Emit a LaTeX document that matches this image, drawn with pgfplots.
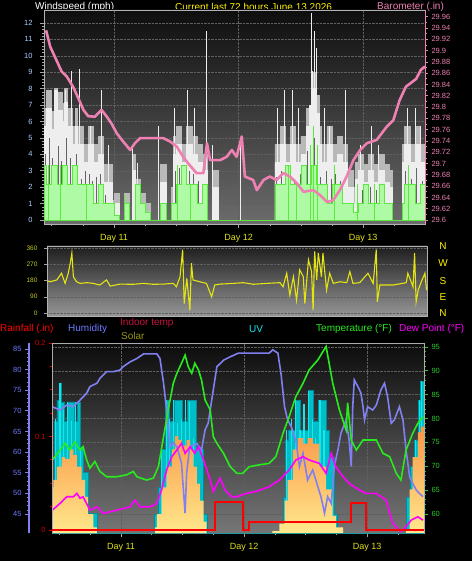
\documentclass[border=0pt]{standalone}
\usepackage{pgfplots}
\pgfplotsset{compat=1.18}
\usepackage{fontspec}
\setmainfont{Liberation Sans}
\newcommand\fs[1]{\fontsize{#1}{#1}\selectfont}
\definecolor{pinkb}{RGB}{238,128,178}
\definecolor{windlbl}{RGB}{175,205,255}
\definecolor{dayy}{RGB}{225,225,30}
\definecolor{diry}{RGB}{228,228,20}
\definecolor{dirlbl}{RGB}{200,200,30}
\definecolor{gwhite}{RGB}{238,238,238}
\definecolor{ggrey}{RGB}{185,185,185}
\definecolor{gdark}{RGB}{100,100,100}
\definecolor{ggreen}{RGB}{175,250,165}
\definecolor{bgreen}{RGB}{90,235,60}
\definecolor{humb}{RGB}{128,128,240}
\definecolor{humlbl}{RGB}{110,120,255}
\definecolor{tgreen}{RGB}{40,235,30}
\definecolor{tlbl}{RGB}{40,200,40}
\definecolor{dewm}{RGB}{255,0,255}
\definecolor{uvc}{RGB}{20,230,235}
\definecolor{uvf}{RGB}{0,190,200}
\definecolor{uvd}{RGB}{0,140,155}
\definecolor{solo}{RGB}{250,150,70}
\definecolor{soly}{RGB}{255,232,140}
\definecolor{rainr}{RGB}{255,0,0}
\definecolor{rainlbl}{RGB}{210,0,0}
\definecolor{indoor}{RGB}{195,20,60}
\definecolor{solarlbl}{RGB}{150,150,20}
\definecolor{bgat}{RGB}{14,14,14}
\definecolor{bgab}{RGB}{108,108,108}
\definecolor{bgbt}{RGB}{30,30,30}
\definecolor{bgbb}{RGB}{150,150,150}
\definecolor{bgct}{RGB}{12,12,12}
\definecolor{bgcb}{RGB}{118,118,118}
\definecolor{gridc}{RGB}{95,95,95}
\pgfplotsset{
  panel/.style={scale only axis, anchor=south west, tick align=outside, scaled ticks=false},
  dgrid/.style={major grid style={densely dotted, gridc, line width=0.4pt}},
}
\begin{document}
\begin{tikzpicture}
\fill[black] (0pt,0pt) rectangle (472pt,-561pt);
% ---------------- titles
\node[anchor=west, inner sep=0, text=white, font=\fs{10}] at (35pt,-6.5pt) {Windspeed (mph)};
\node[anchor=west, inner sep=0, text=yellow, font=\fs{10}] at (175pt,-6.5pt) {Current last 72 hours June 13 2026};
\node[anchor=west, inner sep=0, text=pinkb, font=\fs{10}] at (377pt,-6.5pt) {Barometer (.in)};
% ---------------- wind speed panel
\begin{axis}[panel, dgrid, tick pos=left,
  at={(44pt,-224pt)}, width=381pt, height=214pt,
  xmin=10.5, xmax=83.9, ymin=-0.24, ymax=12.79,
  axis background/.style={top color=bgat, bottom color=bgab},
  axis line style={draw=gray!60, line width=0.8pt},
  xtick={24,48,72}, xticklabels={Day 11,Day 12,Day 13},
  minor xtick={12,18,30,36,42,54,60,66,78},
  ytick={0,1,2,3,4,5,6,7,8,9,10,11,12}, yticklabels={0,1,2,3,4,5,6,7,8,9,10,11,12},
  minor y tick num=4,
  major tick length=4pt, minor tick length=2pt,
  tick style={draw=gray!70, line width=0.6pt},
  xticklabel style={font=\fs{9}, text=dayy, yshift=-3pt},
  yticklabel style={font=\fs{7.5}, text=windlbl, xshift=-4pt},
  xmajorgrids, ymajorgrids,
]
\addplot[const plot, fill=ggrey, draw=ggrey, line width=0.6pt] coordinates {
(10.5,6.8)(11,7.9)(12,6.6)(12.5,8.0)(13,7.8)(14,7.1)(14.5,8.0)(15,6.8)(16,5.7)(16.5,6.8)(17,5.7)(18,4.6)(19,5.7)(20,4.6)(21,5.1)(22,3.4)(23,3.4)(23.6,1.2)(24,1.6)(25,0)(26,1.6)(27,0)(27.6,4.0)(28,2.5)(29,1.6)(30,1.0)(31,0)(33,3.4)(34,0)(35,2.0)(35.5,5.1)(36,5.7)(37,4.6)(38,5.7)(39,5.1)(40,4.6)(41,4.0)(42,0)(43,3.0)(44,0)(55,4.6)(56,5.7)(57,4.6)(58,5.7)(59,4.6)(60,5.1)(61,6.8)(62,9.0)(63,7.6)(63.5,5.7)(64,4.6)(65,5.7)(66,4.6)(67,5.1)(68,4.6)(69,3.0)(70,2.0)(70.5,3.5)(71,4.0)(72,3.4)(73,4.0)(74,3.4)(75,4.0)(76,3.4)(77,3.0)(77.6,0)(79.5,4.6)(80,5.7)(81,4.6)(82,5.7)(83,4.6)(83.9,4.6)
} \closedcycle;
\addplot[const plot, fill=gwhite, draw=gwhite, line width=0.6pt] coordinates {
(10.5,5.7)(11,6.8)(12,5.5)(12.5,7.9)(13,6.7)(14,6.0)(14.5,7.2)(15,5.7)(16,4.6)(16.5,5.7)(17,4.6)(18,3.5)(19,4.6)(20,3.5)(21,4.0)(22,2.3)(23,2.3)(23.6,0.6)(24,1.0)(25,0)(26,1.0)(27,0)(27.6,3.0)(28,1.5)(29,1.0)(30,0.5)(31,0)(33,2.3)(34,0)(35,1.0)(35.5,4.0)(36,4.6)(37,3.5)(38,4.6)(39,4.0)(40,3.5)(41,3.0)(42,0)(43,2.0)(44,0)(55,3.5)(56,4.6)(57,3.5)(58,4.6)(59,3.5)(60,4.0)(61,5.7)(61.6,7.0)(62,8.0)(63,6.5)(63.5,4.6)(64,3.5)(65,4.6)(66,3.5)(67,4.0)(68,3.5)(69,2.0)(70,1.0)(70.5,2.5)(71,3.0)(72,2.3)(73,3.0)(74,2.3)(75,3.0)(76,2.3)(77,2.0)(77.6,0)(79.5,3.5)(80,4.6)(81,3.5)(82,4.6)(83,3.5)(83.9,3.5)
} \closedcycle;
\addplot[ycomb, gwhite, line width=1pt, mark=none] coordinates {
(11.2,6.8)(12.8,7.9)(14.6,7.9)(15.8,9.1)(17.3,9.2)(19.5,5.7)(21.6,7.9)(23.0,4.6)(27.6,4.6)(28.6,3.5)(32.5,5.7)(35.7,6.8)(38.1,7.9)(39.5,6.8)(41.9,11.5)(43.0,4.6)(48.3,4.9)(55.5,6.8)(56.9,7.9)(58.3,7.9)(59.5,6.8)(62.0,12.6)(62.3,9.1)(62.7,11.5)(63.0,10.5)(64.5,6.8)(65.5,5.7)(68.5,7.9)(71.5,4.6)(73.5,5.7)(75.0,4.6)(80.5,6.8)(82.0,6.8)(83.0,5.7)
};
\addplot[ycomb, gdark, line width=0.7pt, mark=none] coordinates {
(10.8,4.0)(11.6,5.0)(12.2,3.8)(13.3,4.5)(13.9,3.6)(14.8,5.0)(15.5,3.8)(16.2,3.0)(16.8,4.0)(17.6,2.5)(18.4,3.0)(19.2,2.8)(19.8,2.4)(20.6,2.6)(21.4,2.8)(22.4,1.5)(35.8,3.0)(36.6,3.2)(37.3,2.6)(38.5,3.0)(39.2,2.8)(40.3,2.4)(55.3,2.6)(56.2,3.0)(57.3,2.4)(58.0,3.2)(58.8,2.5)(59.8,2.8)(60.6,3.0)(61.3,4.2)(62.6,5.0)(63.8,2.6)(64.8,3.0)(65.8,2.5)(66.6,2.8)(67.5,2.4)(71.8,1.8)(73.3,2.0)(74.6,1.8)(75.8,1.6)(80.2,3.0)(81.2,2.5)(82.3,3.2)(83.3,2.4)
};
\addplot[const plot, fill=ggreen, draw=bgreen, line width=0.6pt] coordinates {
(10.5,3.35)(11,2.2)(12,3.35)(13,2.2)(14,3.35)(15,2.2)(16,3.35)(17,2.2)(20,1.0)(21,2.2)(22,1.0)(24,0.3)(25,0)(26,1.0)(27,0)(28,2.2)(29,1.0)(30,0.5)(31,0)(33,1.0)(34,0)(35,1.0)(36,2.2)(37,3.35)(38,2.2)(40,1.0)(41,2.2)(42,0)(55,2.2)(57,3.35)(58,2.2)(60,3.35)(61,2.2)(62,3.35)(63,2.2)(65,1.0)(66,2.2)(68,1.0)(70,0.5)(71,1.0)(72,2.2)(73,1.0)(75,2.2)(76,1.0)(77.6,0)(79.5,1.0)(80,2.2)(82,1.0)(83,2.2)(83.9,2.2)
} \closedcycle;
\addplot[ycomb, bgreen, line width=1pt, mark=none] coordinates {
(11.4,3.35)(13.6,3.35)(18.7,2.2)(26.0,1.5)(36.2,3.35)(38.8,2.2)(57.6,3.35)(59.2,2.2)(61.8,4.6)(62.4,5.7)(63.2,4.6)(66.5,3.35)(70.9,2.2)(74.2,2.2)(80.8,3.35)
};
\end{axis}
% ---------------- barometer overlay
\begin{axis}[panel,
  at={(44pt,-224pt)}, width=381pt, height=214pt,
  xmin=10.5, xmax=83.9, ymin=29.593, ymax=29.972,
  axis x line=none, axis y line*=right, ytick pos=right, yticklabel pos=right,
  y axis line style={draw=pinkb, line width=1pt},
  ytick={29.6,29.62,29.64,29.66,29.68,29.7,29.72,29.74,29.76,29.78,29.8,29.82,29.84,29.86,29.88,29.9,29.92,29.94,29.96},
  yticklabels={29.6,29.62,29.64,29.66,29.68,29.7,29.72,29.74,29.76,29.78,29.8,29.82,29.84,29.86,29.88,29.9,29.92,29.94,29.96},
  minor y tick num=1, major tick length=3pt, minor tick length=2pt,
  ytick style={draw=pinkb, line width=0.8pt},
  yticklabel style={font=\fs{7.5}, text=pinkb},
]
\addplot[pinkb, line width=2.6pt, line join=round] coordinates {
(10.9,29.936)(11.7,29.907)(12.9,29.883)(13.9,29.863)(14.9,29.854)(16.1,29.836)(17.1,29.816)(18.1,29.795)(19.0,29.784)(20.3,29.783)(21.6,29.795)(22.6,29.783)(23.5,29.771)(24.5,29.754)(25.5,29.742)(27.1,29.724)(28.0,29.736)(29.0,29.745)(30.9,29.745)(33.5,29.745)(34.8,29.739)(36.1,29.730)(37.3,29.712)(38.3,29.700)(39.9,29.683)(41.2,29.683)(41.9,29.736)(42.5,29.706)(44.4,29.706)(45.7,29.712)(46.7,29.724)(47.6,29.712)(48.6,29.748)(49.2,29.677)(50.8,29.671)(51.5,29.653)(52.8,29.671)(54.0,29.677)(55.3,29.671)(56.6,29.683)(57.9,29.677)(59.2,29.665)(60.5,29.650)(62.4,29.653)(63.7,29.644)(65.0,29.632)(66.2,29.635)(67.5,29.653)(68.8,29.677)(70.1,29.706)(71.4,29.724)(72.7,29.736)(74.6,29.742)(76.5,29.765)(77.8,29.777)(79.0,29.812)(80.2,29.836)(82.2,29.850)(83.1,29.866)(83.9,29.872)
};
\end{axis}
% ---------------- wind direction panel
\begin{axis}[panel, dgrid, tick pos=left,
  at={(47pt,-316pt)}, width=380pt, height=70pt,
  xmin=10.5, xmax=83.9, ymin=-16.6, ymax=371,
  axis background/.style={top color=bgbt, bottom color=bgbb},
  axis line style={draw=gray!60, line width=0.8pt},
  xtick=\empty, ytick={0,90,180,270,360}, yticklabels={0,90,180,270,360},
  yticklabel style={font=\fs{6.5}, text=dirlbl, xshift=-3pt},
  major tick length=3pt, tick style={draw=gray!70},
  ymajorgrids,
]
\addplot[diry, line width=1.1pt] coordinates {
(10.6,178)(11.1,173)(12.4,183)(13.3,220)(14.0,164)(14.6,220)(15.0,276)(15.3,332)(15.6,201)(16.2,173)(16.9,164)(18.2,168)(19.4,164)(20.7,155)(22.0,183)(22.7,149)(24.6,160)(27.2,159)(29.1,164)(31.0,159)(33.0,160)(34.9,164)(35.5,145)(36.2,201)(36.7,351)(37.0,52)(37.5,192)(38.1,15)(38.4,276)(38.7,183)(40.0,173)(41.3,164)(42.3,90)(42.9,155)(43.9,160)(46.5,164)(48.4,168)(50.4,159)(52.9,164)(55.5,168)(56.1,145)(56.8,220)(57.4,99)(58.1,201)(58.7,71)(59.3,239)(60.0,201)(60.3,52)(61.0,295)(61.6,229)(61.9,15)(62.2,341)(62.6,183)(62.9,332)(63.5,201)(63.8,332)(64.5,127)(65.1,220)(65.8,164)(67.1,173)(68.4,168)(69.0,229)(69.6,164)(70.9,168)(72.5,220)(73.5,164)(74.1,351)(74.3,62)(74.8,155)(77.4,155)(79.9,168)(80.2,220)(81.2,145)(81.5,332)(81.8,62)(82.2,127)(82.8,173)(83.5,220)(83.8,127)
};
\end{axis}
\foreach \l/\y in {N/246,W/263.5,S/281,E/297,N/313}{
  \node[text=yellow, font=\fs{10}, inner sep=0] at (443pt,-\y pt) {\l};
}
% ---------------- legend row
\node[anchor=west, inner sep=0, text=rainr, font=\fs{10}] at (0pt,-329pt) {Rainfall (.in)};
\node[anchor=west, inner sep=0, text=humlbl, font=\fs{10}] at (68pt,-329pt) {Humidity};
\node[anchor=west, inner sep=0, text=indoor, font=\fs{10}] at (120pt,-323pt) {Indoor temp};
\node[anchor=west, inner sep=0, text=solarlbl, font=\fs{10}] at (121pt,-335.5pt) {Solar};
\node[anchor=west, inner sep=0, text=uvc, font=\fs{10}] at (249pt,-329pt) {UV};
\node[anchor=west, inner sep=0, text=tgreen, font=\fs{10}] at (316pt,-329pt) {Temperature (°F)};
\node[anchor=west, inner sep=0, text=dewm, font=\fs{10}] at (399pt,-329pt) {Dew Point (°F)};
% ---------------- bottom panel: background, UV, solar
\begin{axis}[panel, tick pos=left,
  at={(52pt,-533pt)}, width=372pt, height=190pt,
  xmin=10.54, xmax=83.1, ymin=0, ymax=10,
  axis background/.style={top color=bgct, bottom color=bgcb},
  axis line style={draw=gray!65, line width=0.8pt},
  xtick={24,48,72}, xticklabels={Day 11,Day 12,Day 13},
  minor xtick={12,18,30,36,42,54,60,66,78},
  ytick={1.0,2.26,3.51,4.77,6.02,7.28,8.53,9.79}, yticklabels={},
  major tick length=4pt, minor tick length=2pt,
  xtick style={draw=gray!70, line width=0.6pt}, ytick style={draw=none},
  xticklabel style={font=\fs{9}, text=dayy, yshift=-3pt},
  xmajorgrids, ymajorgrids,
  major grid style={densely dotted, gridc, line width=0.4pt},
]
\addplot[const plot, fill=uvf, draw=uvd, line width=0.8pt] coordinates {
(10.54,0)(11.1,5.9)(11.5,7.0)(12.1,7.9)(12.3,6.9)(13.0,5.9)(13.5,6.9)(15.0,5.9)(15.5,6.9)(16.0,4.5)(16.6,3.2)(17.6,1.05)(19.3,0)(30.6,1.0)(31.2,2.4)(31.8,4.4)(32.6,7.0)(33.5,5.9)(34.5,7.0)(36.0,5.9)(37.0,7.0)(38.8,4.4)(40.0,1.0)(40.8,0)(55.6,1.9)(56.0,4.9)(56.6,5.4)(58.0,7.0)(59.0,5.4)(60.5,7.5)(61.5,5.9)(62.5,7.0)(64.0,5.4)(64.6,4.0)(65.6,1.0)(66.2,0)(79.6,1.9)(80.4,3.5)(81.2,4.9)(82.0,7.0)(82.4,8.0)(83.1,8.0)
} \closedcycle;
\addplot[ycomb, uvc, line width=1.2pt, mark=none] coordinates {
(11.3,6.0)(12.1,7.9)(12.8,6.5)(13.6,6.9)(14.3,5.9)(15.2,6.9)(16.1,4.5)(31.9,4.4)(32.8,7.0)(33.4,6.0)(34.2,7.0)(35.0,5.8)(35.8,6.0)(36.6,7.0)(37.4,6.9)(38.2,5.0)(56.3,5.4)(57.2,6.0)(58.1,7.0)(58.9,5.4)(59.7,6.8)(60.6,7.5)(61.3,6.0)(62.0,5.0)(62.8,7.0)(63.6,5.4)(81.5,4.9)(82.2,7.0)(82.6,8.0)
};
\addplot[const plot, draw=none, top color=solo, bottom color=soly] coordinates {
(10.54,2.4)(10.8,2.8)(11.5,3.5)(12.4,4.0)(13.1,3.9)(14.0,4.4)(14.7,4.1)(15.4,3.5)(16.3,2.8)(17.0,1.9)(17.6,1.0)(18.6,0.3)(19.3,0)(30.3,0)(30.6,0.3)(31.0,1.0)(31.9,2.4)(32.9,3.5)(33.9,4.4)(34.5,5.1)(35.2,4.9)(35.8,4.6)(36.8,4.9)(37.5,4.4)(38.1,3.5)(38.8,2.6)(39.4,1.7)(40.1,0.6)(40.7,0)(52.9,0)(53.5,0.1)(54.9,0.5)(55.9,1.7)(56.5,2.8)(57.5,4.4)(58.5,5.0)(59.5,4.7)(60.4,5.0)(61.4,4.7)(62.7,3.5)(64.0,2.3)(65.3,0.9)(65.9,0.3)(67.3,0)(79.0,0)(79.6,0.1)(80.3,2.3)(80.9,4.0)(81.9,5.3)(82.5,5.6)(83.1,5.0)
} \closedcycle;
\end{axis}
% humidity line
\begin{axis}[panel,
  at={(52pt,-533pt)}, width=372pt, height=190pt,
  xmin=10.54, xmax=83.1, ymin=40.4, ymax=86.45, axis lines=none,
]
\addplot[humb, line width=1.6pt] coordinates {
(10.6,71.0)(12.1,70.2)(13.4,71.4)(14.7,71.0)(16.0,72.6)(17.3,74.3)(17.95,75.9)(19.3,76.7)(19.9,77.9)(21.2,79.5)(22.5,79.5)(23.8,79.9)(24.4,80.7)(25.8,81.9)(27.1,82.7)(28.4,83.8)(31.0,83.8)(31.6,82.7)(32.3,76.7)(32.9,70.2)(33.6,61.3)(34.2,62.2)(34.9,61.3)(35.8,57.3)(36.5,45.2)(36.8,54.9)(37.4,61.3)(38.8,62.1)(39.7,60.5)(40.4,65.4)(41.0,67.0)(42.0,75.1)(42.7,80.7)(44.0,82.3)(45.3,83.1)(46.9,84.0)(52.9,84.0)(53.6,84.8)(54.6,84.0)(55.2,79.1)(55.9,71.0)(56.5,67.8)(57.2,66.2)(58.1,62.9)(58.8,56.5)(59.5,59.7)(60.4,53.2)(61.4,55.7)(62.4,51.6)(63.0,49.2)(63.7,45.2)(64.3,49.2)(65.0,47.6)(65.6,56.5)(66.3,60.5)(66.9,64.6)(67.9,67.8)(68.5,62.9)(68.9,56.5)(69.2,71.0)(69.5,77.5)(70.2,75.9)(70.8,74.3)(71.2,71.0)(71.5,67.8)(72.1,71.0)(73.1,70.2)(73.8,71.4)(74.7,75.1)(75.4,76.7)(76.0,73.4)(76.7,67.0)(77.3,67.8)(78.3,71.0)(79.0,67.8)(79.6,60.5)(80.3,54.0)(80.9,52.4)(81.6,50.8)(82.2,50.0)(82.9,49.2)
};
\end{axis}
% temperature and dew point
\begin{axis}[panel,
  at={(52pt,-533pt)}, width=372pt, height=190pt,
  xmin=10.54, xmax=83.1, ymin=56.0, ymax=95.84,
  axis x line=none, axis y line*=right, ytick pos=right, yticklabel pos=right,
  y axis line style={draw=gray!65, line width=0.8pt},
  ytick={60,65,70,75,80,85,90,95}, yticklabels={60,65,70,75,80,85,90,95},
  minor y tick num=4, major tick length=4pt, minor tick length=2pt,
  ytick style={draw=tlbl, line width=0.8pt},
  yticklabel style={font=\fs{7.5}, text=tlbl},
]
\addplot[dewm, line width=1.6pt] coordinates {
(10.6,60.8)(12.1,62.2)(13.4,63.6)(14.7,63.6)(15.4,64.3)(16.0,63.3)(16.6,63.6)(17.95,60.8)(19.3,61.5)(20.5,60.1)(23.2,60.8)(25.8,61.5)(26.7,62.9)(27.7,61.5)(29.7,61.5)(31.0,62.2)(31.9,65.0)(32.9,69.2)(33.9,72.0)(34.9,73.4)(35.8,74.8)(36.5,72.7)(37.5,74.1)(38.4,72.7)(39.1,74.1)(40.1,71.3)(41.4,67.1)(42.0,64.7)(43.3,67.5)(44.3,65.0)(45.6,63.6)(46.6,63.6)(48.4,64.3)(50.3,64.7)(52.9,65.7)(54.9,67.1)(56.8,69.2)(58.1,71.3)(59.5,72.0)(60.7,71.3)(62.7,70.6)(64.0,68.5)(65.0,72.7)(65.9,69.9)(67.3,67.8)(68.5,66.4)(70.5,65.0)(71.8,64.3)(73.8,64.3)(75.7,62.9)(77.0,58.0)(78.6,56.3)(79.6,57.3)(80.6,58.7)(81.9,59.4)(82.9,58.7)
};
\addplot[tgreen, line width=1.6pt] coordinates {
(10.6,71.3)(12.1,73.4)(13.1,74.8)(14.0,73.4)(15.0,75.1)(16.0,73.4)(16.6,74.1)(17.3,71.3)(17.95,69.6)(18.9,71.0)(19.9,68.9)(21.2,67.8)(23.2,67.8)(25.1,68.2)(26.4,68.9)(27.1,67.8)(29.0,67.1)(30.3,67.5)(31.3,69.9)(32.3,76.2)(33.2,81.8)(34.2,87.4)(34.9,89.5)(35.8,91.6)(36.5,93.3)(37.1,90.9)(37.8,89.5)(38.4,91.6)(39.1,90.2)(39.7,88.1)(40.4,83.9)(41.4,81.8)(42.0,76.2)(42.7,74.8)(44.0,72.7)(45.3,69.9)(46.6,68.5)(47.7,68.5)(49.0,69.9)(51.0,70.3)(52.9,70.6)(54.2,72.0)(55.6,76.9)(56.8,80.4)(58.1,84.6)(59.5,87.4)(60.7,90.2)(62.4,92.3)(64.0,95.1)(65.3,87.4)(66.6,81.8)(67.9,77.6)(68.2,83.3)(68.9,75.5)(69.9,73.4)(71.2,75.5)(72.4,75.5)(73.8,75.5)(75.1,72.7)(76.4,72.0)(77.7,68.5)(78.6,67.1)(79.6,73.4)(80.9,76.9)(81.9,79.0)(82.9,80.4)
};
\end{axis}
% rainfall
\begin{axis}[panel, tick pos=left,
  at={(52pt,-533pt)}, width=372pt, height=190pt,
  xmin=10.54, xmax=83.1, ymin=-0.0032, ymax=0.2,
  axis x line=none, axis y line*=left,
  y axis line style={draw=gray!65, line width=0.8pt},
  ytick={0,0.1,0.2}, yticklabels={0,0.1,0.2},
  minor y tick num=3, major tick length=3pt, minor tick length=2pt,
  ytick style={draw=rainlbl, line width=0.8pt},
  yticklabel style={font=\fs{7.5}, text=rainlbl},
]
\addplot[rainr, line width=2pt] coordinates {
(10.54,0)(42.3,0)(42.3,0.030)(47.8,0.030)(47.8,0)(49.0,0)(49.0,0.009)(68.9,0.009)(68.9,0.029)(71.8,0.029)(71.8,0)(83.1,0)
};
\end{axis}
% humidity axis
\begin{axis}[scale only axis, anchor=south west, at={(29pt,-533pt)}, width=1pt, height=190pt,
  xmin=0, xmax=1, ymin=40.4, ymax=86.45,
  axis x line=none, axis y line*=left, tick align=outside,
  y axis line style={draw=humb, line width=2.4pt},
  ytick={45,50,55,60,65,70,75,80,85}, yticklabels={45,50,55,60,65,70,75,80,85},
  minor y tick num=4, major tick length=4pt, minor tick length=2.5pt,
  ytick style={draw=humb, line width=0.8pt},
  yticklabel style={font=\fs{7.5}, text=humlbl},
]
\addplot[draw=none] coordinates {(0.5,50)};
\end{axis}
\end{tikzpicture}
\end{document}
